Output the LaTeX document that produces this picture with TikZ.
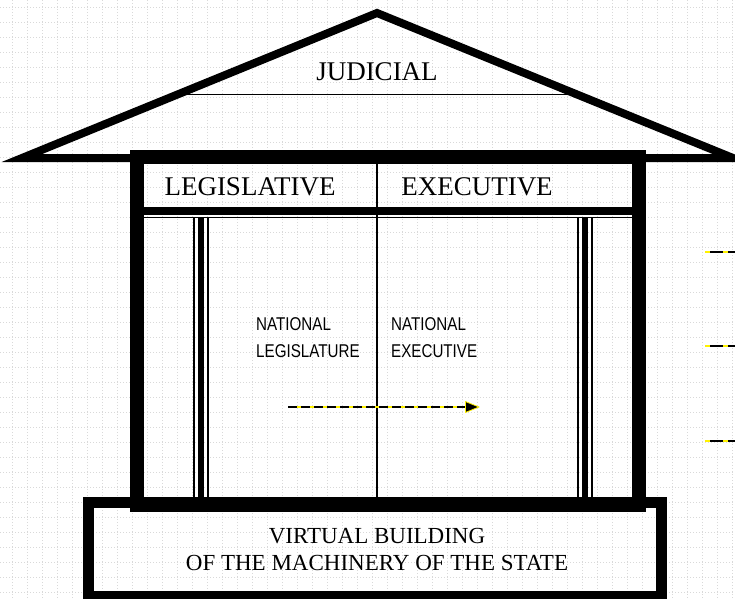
\documentclass[tikz,border=0pt]{standalone}
\usepackage{fontspec}
\setmainfont{Liberation Serif}
\newfontfamily\narrowsans[FakeStretch=0.82]{Liberation Sans}
\usetikzlibrary{arrows.meta}
\tikzset{
  gridline/.style={gray!30, line width=0.8pt, dash pattern=on 1pt off 2pt},
  hazardbase/.style={yellow, line width=2.5pt},
  hazardtop/.style={black, line width=2.5pt, dash pattern=on 9pt off 4pt},
  serifbig/.style={font=\fontsize{27}{32}\selectfont, inner sep=0pt},
  serifbase/.style={font=\fontsize{23}{27}\selectfont, inner sep=0pt},
  sanslabel/.style={font=\narrowsans\fontsize{18.5}{27}\selectfont, align=left, inner sep=0pt}
}
\begin{document}
\begin{tikzpicture}[x=1pt, y=-1pt, line join=miter, >=Stealth]
            \def\xl{22} \def\xr{733} \def\yb{158} \def\yt{13} % mái nhà
            \def\fl{137} \def\fr{639} \def\ft{157} \def\fb{505} % khung
            \useasboundingbox (0,0) rectangle (735,598);
            % lưới nền
            \foreach \i in {0,...,48} \draw[gridline] (12.3+15*\i,0)--(12.3+15*\i,598);
            \foreach \j in {0,...,39} \draw[gridline] (0,7.7+15*\j)--(735,7.7+15*\j);
            % mái
            \draw[line width=8pt] (\xl,\yb)--(377,\yt)--(\xr,\yb)--cycle;
            \draw[line width=1.5pt] (178,94.5)--(577,94.5);
            \node[serifbig, anchor=base] (judicial) at (377,80) {JUDICIAL};
            % nền móng
            \draw[line width=11pt] (88,502) rectangle (661,596);
            % khung nhà
            \draw[line width=14pt] (\fl,\ft) rectangle (\fr,\fb);
            \fill (144,207) rectangle (632,215);
            \draw[line width=1.2pt] (144,217.5)--(632,217.5);
            \draw[line width=1.5pt] (377,164)--(377,498);
            \foreach \c in {201,585} {
              \draw[line width=1.5pt] (\c-7,218)--(\c-7,498);
              \draw[line width=6pt] (\c,218)--(\c,498);
              \draw[line width=1.5pt] (\c+7,218)--(\c+7,498);
            }
            \node[serifbig, anchor=base] (legis) at (250,195) {LEGISLATIVE};
            \node[serifbig, anchor=base] (exec) at (477,195) {EXECUTIVE};
            \node[sanslabel, anchor=base west] (natleg) at (256,357) {NATIONAL\\LEGISLATURE};
            \node[sanslabel, anchor=base west] (natexe) at (391,357) {NATIONAL\\EXECUTIVE};
            \node[serifbase, anchor=base] (virtual) at (377,543) {VIRTUAL BUILDING};
            \node[serifbase, anchor=base] (machinery) at (377,570) {OF THE MACHINERY OF THE STATE};
            % mũi tên
            \coordinate (arrS) at (288,407); \coordinate (arrE) at (480,407);
            \draw[hazardbase, -{Triangle[length=15pt, width=12pt, fill=black, line width=0.8pt]}] (arrS)--(arrE);
            \draw[hazardtop, shorten >=15pt] (arrS)--(arrE);
            \foreach \y [count=\k] in {252,346,441} {
              \coordinate (stubS\k) at (705,\y); \coordinate (stubE\k) at (735,\y);
              \draw[hazardbase] (stubS\k)--(stubE\k);
              \draw[hazardtop, dash pattern=on 13pt off 5pt, dash phase=13pt] (stubS\k)--(stubE\k);
            }
        \end{tikzpicture}
\end{document}
